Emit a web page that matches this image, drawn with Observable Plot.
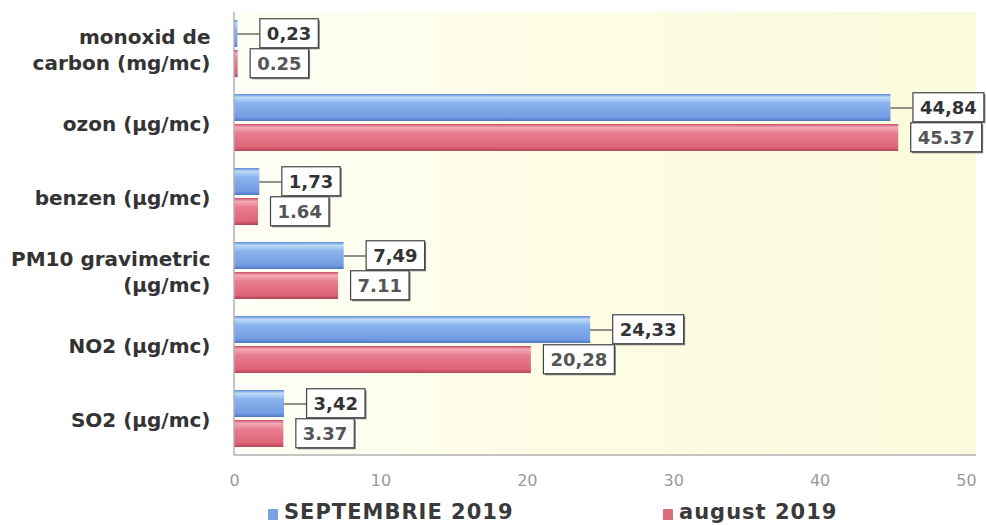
<!DOCTYPE html>
<html><head><meta charset="utf-8">
<script src="https://cdn.jsdelivr.net/npm/d3@7"></script>
<script src="https://cdn.jsdelivr.net/npm/@observablehq/plot@0.6"></script>
<style>
body{margin:0;background:#fff;font-family:"DejaVu Sans",sans-serif;}
#wrap{position:relative;width:986px;height:525px;overflow:hidden}
.leg{position:absolute;top:500px;font-weight:bold;font-size:21px;color:#3a3a3a;letter-spacing:1px;white-space:nowrap;line-height:25px}
.sw{display:inline-block;width:10px;height:11px;margin-right:6px;vertical-align:-1px}
</style></head><body><div id="wrap"></div>
<script>
const categories = ["monoxid de\ncarbon (mg/mc)", "ozon (µg/mc)", "benzen (µg/mc)", "PM10 gravimetric\n(µg/mc)", "NO2 (µg/mc)", "SO2 (µg/mc)"];
const series = ["SEPTEMBRIE 2019", "august 2019"];
const septValues = [0.23, 44.84, 1.73, 7.49, 24.33, 3.42];
const augValues  = [0.25, 45.37, 1.64, 7.11, 20.28, 3.37];
const septLabels = ["0,23", "44,84", "1,73", "7,49", "24,33", "3,42"];
const augLabels  = ["0.25", "45.37", "1.64", "7.11", "20,28", "3.37"];
const xTicks = [0, 10, 20, 30, 40, 50];
const seriesColors = ["#7aa3e3", "#e06a80"];

const rows = categories.flatMap((c, i) => [
  {cat: c, series: series[0], value: septValues[i], label: septLabels[i]},
  {cat: c, series: series[1], value: augValues[i], label: augLabels[i]}
]);
const sept = rows.filter(d => d.series === series[0]);
const aug = rows.filter(d => d.series === series[1]);

const ns = "http://www.w3.org/2000/svg";
function defs() {
  const d = document.createElementNS(ns, "defs");
  d.innerHTML = `
  <linearGradient id="gb" x1="0" y1="0" x2="0" y2="1">
    <stop offset="0" stop-color="#5b87d4"/>
    <stop offset="0.12" stop-color="#bcdcf8"/>
    <stop offset="0.35" stop-color="#8ab2ec"/>
    <stop offset="0.85" stop-color="#739de3"/>
    <stop offset="1" stop-color="#5079c6"/>
  </linearGradient>
  <linearGradient id="gr" x1="0" y1="0" x2="0" y2="1">
    <stop offset="0" stop-color="#c94a60"/>
    <stop offset="0.12" stop-color="#f4aab6"/>
    <stop offset="0.35" stop-color="#e87d8f"/>
    <stop offset="0.85" stop-color="#df6579"/>
    <stop offset="1" stop-color="#b64257"/>
  </linearGradient>
  <linearGradient id="gbg" x1="0" y1="0" x2="1" y2="0">
    <stop offset="0" stop-color="#fefef6"/>
    <stop offset="0.4" stop-color="#fdfde6"/>
    <stop offset="1" stop-color="#fafadc"/>
  </linearGradient>`;
  return d;
}

const leadPx = 22, redPx = 12, pad = 7, vpad = 4;
const chart = Plot.plot({
  width: 986, height: 495,
  marginLeft: 234, marginRight: 20, marginTop: 12, marginBottom: 40,
  style: {fontFamily: "DejaVu Sans", background: "transparent"},
  x: {domain: [0, 50], label: null},
  fy: {domain: categories, paddingInner: 0.235, paddingOuter: 0.1, label: null},
  y: {domain: series, paddingInner: 0.1, paddingOuter: 0, axis: null},
  marks: [
    defs,
    Plot.barX(sept, {x: "value", y: "series", fy: "cat", fill: "url(#gb)"}),
    Plot.barX(aug, {x: "value", y: "series", fy: "cat", fill: "url(#gr)"}),
    Plot.ruleY(sept, {y: "series", fy: "cat", x1: "value", x2: d => d.value + leadPx * 50 / 732, stroke: "#555", strokeWidth: 1.3}),
    Plot.text(sept, {x: "value", y: "series", fy: "cat", text: "label", textAnchor: "start", dx: leadPx + pad,
      fontSize: 18, fontWeight: "bold", fill: "#333"}),
    Plot.text(aug, {x: "value", y: "series", fy: "cat", text: "label", textAnchor: "start", dx: redPx + pad,
      fontSize: 18, fontWeight: "bold", fill: "#555"}),
    Plot.axisFy({anchor: "left", tickSize: 0, tickPadding: 24, fontSize: 20, fontWeight: "bold", fill: "#333", lineHeight: 1.3, label: null}),
    Plot.axisX({ticks: xTicks, tickSize: 0, tickPadding: 27, fontSize: 16, fill: "#9a9a9a", label: null})
  ]
});

const wrap = document.getElementById("wrap");
wrap.append(chart);

// plot-area background and axis lines, placed via the scales
const xs = chart.scale("x");
const areaX0 = xs.apply(0), areaX1 = xs.apply(50) + 10;
const areaTop = 12, areaBottom = 495 - 40;
const bg = document.createElementNS(ns, "rect");
bg.setAttribute("x", areaX0); bg.setAttribute("y", areaTop);
bg.setAttribute("width", areaX1 - areaX0); bg.setAttribute("height", areaBottom - areaTop);
bg.setAttribute("fill", "url(#gbg)");
const styleEl = chart.querySelector("style");
chart.insertBefore(bg, styleEl ? styleEl.nextSibling : chart.firstChild);
function line(xa, ya, xb, yb) {
  const l = document.createElementNS(ns, "line");
  l.setAttribute("x1", xa); l.setAttribute("y1", ya); l.setAttribute("x2", xb); l.setAttribute("y2", yb);
  l.setAttribute("stroke", "#b0b0b0"); l.setAttribute("stroke-width", 1.5);
  chart.append(l);
}
line(areaX0, areaTop, areaX0, areaBottom);
line(areaX0, areaBottom, areaX1, areaBottom);

// boxes behind value labels
chart.querySelectorAll('g[aria-label="text"] text').forEach(t => {
  const b = t.getBBox();
  const tr = t.getAttribute("transform");
  const mk = (dx, dy, attrs) => {
    const r = document.createElementNS(ns, "rect");
    r.setAttribute("x", b.x - pad + dx); r.setAttribute("y", b.y - vpad + dy);
    r.setAttribute("width", b.width + 2 * pad); r.setAttribute("height", b.height + 2 * vpad);
    if (tr) r.setAttribute("transform", tr);
    for (const k in attrs) r.setAttribute(k, attrs[k]);
    t.parentNode.insertBefore(r, t);
  };
  mk(1.5, 1.5, {fill: "#777"});
  mk(0, 0, {fill: "#fff", stroke: "#444", "stroke-width": 1.2});
});

// legend
const legPos = [268, 663];
series.forEach((s, i) => {
  const d = document.createElement("div");
  d.className = "leg";
  d.style.left = legPos[i] + "px";
  d.innerHTML = `<span class="sw" style="background:${seriesColors[i]}"></span>${s}`;
  wrap.append(d);
});
</script></body></html>
